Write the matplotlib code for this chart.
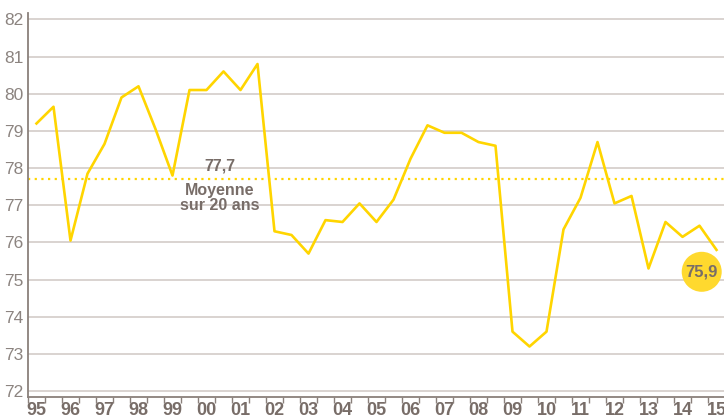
import numpy as np
import matplotlib.pyplot as plt
from matplotlib.patches import Ellipse

plt.rcParams['font.family'] = ['Liberation Sans', 'DejaVu Sans']

# semi-annual values, 1995 H1 -> 2015 H1
values = [79.2, 79.65, 76.05, 77.85, 78.65, 79.9, 80.2, 79.05, 77.8, 80.1,
          80.1, 80.6, 80.1, 80.8, 76.3, 76.2, 75.7, 76.6, 76.55, 77.05,
          76.55, 77.15, 78.25, 79.15, 78.95, 78.95, 78.7, 78.6, 73.6, 73.2,
          73.6, 76.35, 77.2, 78.7, 77.05, 77.25, 75.3, 76.55, 76.15, 76.45,
          75.8]
years = ['95', '96', '97', '98', '99', '00', '01', '02', '03', '04', '05',
         '06', '07', '08', '09', '10', '11', '12', '13', '14', '15']
mean_val = 77.7
mean_label = '77,7'
last_label = '75,9'

yellow = '#ffd500'
txt = '#786d68'
grid_c = '#d3ccc8'
spine_c = '#8a807b'

fig = plt.figure(figsize=(7.24, 4.19), dpi=100)
ax = fig.add_axes([28 / 724, 1 - 396.7 / 419, 697 / 724, (396.7 - 12.7) / 419])

x = np.arange(len(values))
ax.set_xlim(-0.5, 40.5)
ax.set_ylim(71.85, 82.18)

ax.set_yticks(np.arange(72, 83))
ax.set_yticklabels([str(v) for v in range(72, 83)], color='#8c8480', fontsize=12.5)
ax.tick_params(axis='y', length=0, pad=3)
ax.yaxis.grid(True, color=grid_c, linewidth=1.2)
ax.set_axisbelow(True)

ax.set_xticks(np.arange(0, 41, 2))
ax.set_xticklabels(years, fontweight='bold', color=txt, fontsize=13)
ax.set_xticks(np.arange(-0.5, 41, 1), minor=True)
ax.tick_params(axis='x', which='major', length=0, pad=4)
ax.tick_params(axis='x', which='minor', length=4, width=1, color=spine_c, direction='out')

for s in ['top', 'right']:
    ax.spines[s].set_visible(False)
for s in ['left', 'bottom']:
    ax.spines[s].set_color(spine_c)
    ax.spines[s].set_linewidth(1.3)

ax.axhline(mean_val, color=yellow, linewidth=1.6, linestyle=(0, (1, 2)), zorder=2)
ax.plot(x, values, color=yellow, linewidth=1.9, zorder=3)

ax.text(10.8, 78.05, mean_label, ha='center', va='center',
        fontweight='bold', color=txt, fontsize=11.5)
ax.text(10.8, 77.2, 'Moyenne\nsur 20 ans', ha='center', va='center',
        fontweight='bold', color=txt, fontsize=11.5, linespacing=1.0)

# circle marker for last value (pixel-round ellipse in data units)
w = 40 / 17
h = 40 / 37.17
ax.add_patch(Ellipse((39.13, 75.21), w, h, facecolor='#ffd92e', edgecolor='none', zorder=4))
ax.text(39.13, 75.21, last_label, ha='center', va='center', fontweight='bold',
        color=txt, fontsize=12, zorder=5)

fig.savefig('out.png', dpi=100)
